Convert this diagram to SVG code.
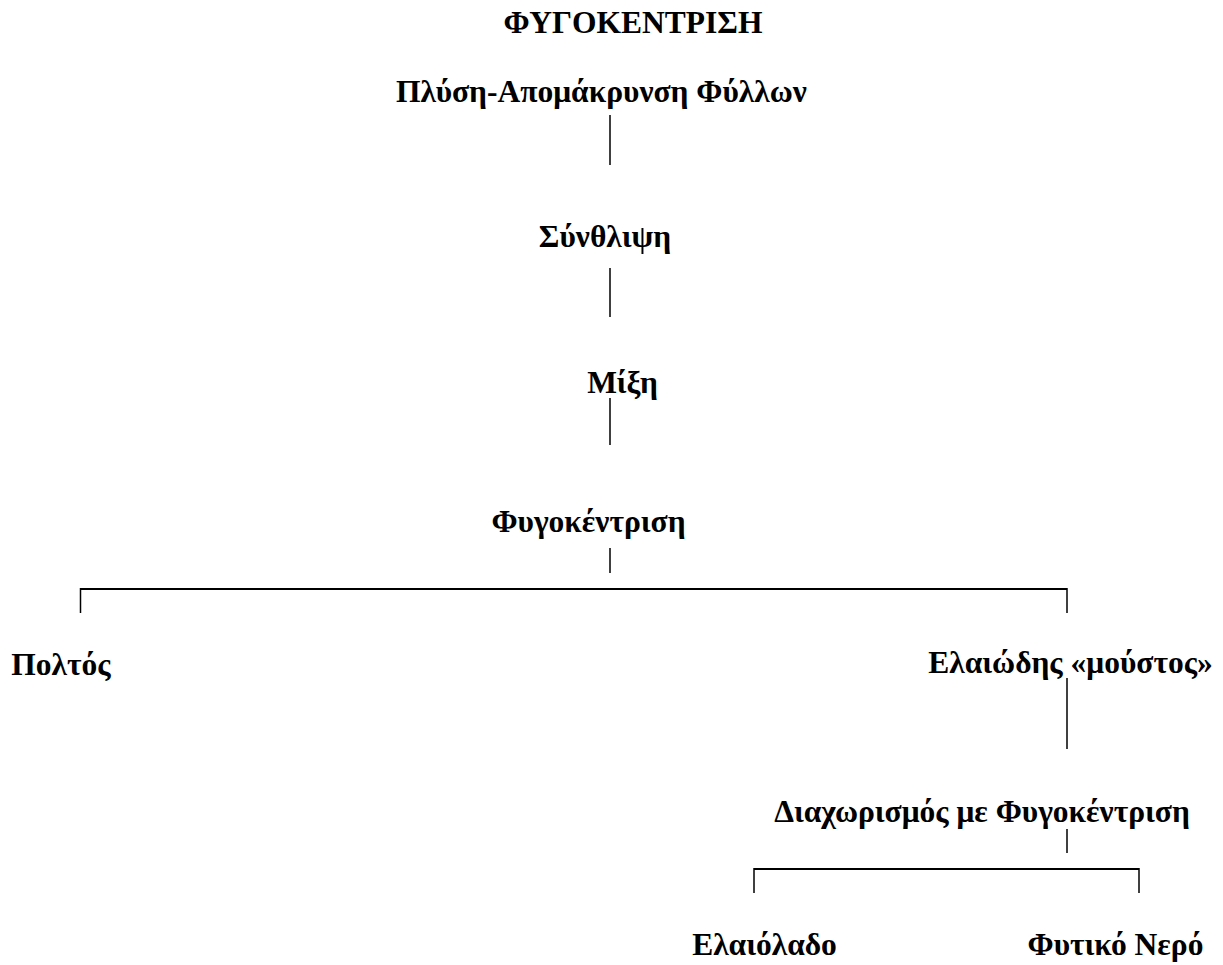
<svg xmlns="http://www.w3.org/2000/svg" width="1223" height="965" viewBox="0 0 1223 965">
<style>
text{font-family:"Liberation Serif","Times New Roman",serif;font-weight:bold;font-size:31.5px;fill:#000;text-anchor:middle}
.c line{stroke:#000;stroke-width:1.5}
.c line.h{stroke-width:2}
</style>
<rect width="1223" height="965" fill="#fff"/>
<g id="title"><text x="633" y="33">ΦΥΓΟΚΕΝΤΡΙΣΗ</text></g>
<g id="n1"><text x="601.5" y="102">Πλύση-Απομάκρυνση Φύλλων</text></g>
<g id="n2"><text x="605" y="247">Σύνθλιψη</text></g>
<g id="n3"><text x="622.5" y="393">Μίξη</text></g>
<g id="n4"><text x="588.5" y="532">Φυγοκέντριση</text></g>
<g id="n5"><text x="61" y="675">Πολτός</text></g>
<g id="n6"><text x="1070.5" y="673">Ελαιώδης «μούστος»</text></g>
<g id="n7"><text x="982" y="822">Διαχωρισμός με Φυγοκέντριση</text></g>
<g id="n8"><text x="764.5" y="955">Ελαιόλαδο</text></g>
<g id="n9"><text x="1115.5" y="955">Φυτικό Νερό</text></g>
<g id="connectors" class="c">
<line x1="610" y1="115" x2="610" y2="165"/>
<line x1="610" y1="268" x2="610" y2="317"/>
<line x1="610" y1="398" x2="610" y2="445"/>
<line x1="610" y1="548" x2="610" y2="573"/>
<line class="h" x1="80" y1="589" x2="1067" y2="589"/>
<line x1="80.5" y1="588" x2="80.5" y2="613"/>
<line x1="1067" y1="588" x2="1067" y2="613"/>
<line x1="1067" y1="678" x2="1067" y2="749"/>
<line x1="1067" y1="829" x2="1067" y2="853"/>
<line class="h" x1="754" y1="869" x2="1139" y2="869"/>
<line x1="754" y1="868" x2="754" y2="893"/>
<line x1="1139" y1="868" x2="1139" y2="893"/>
</g>
</svg>
